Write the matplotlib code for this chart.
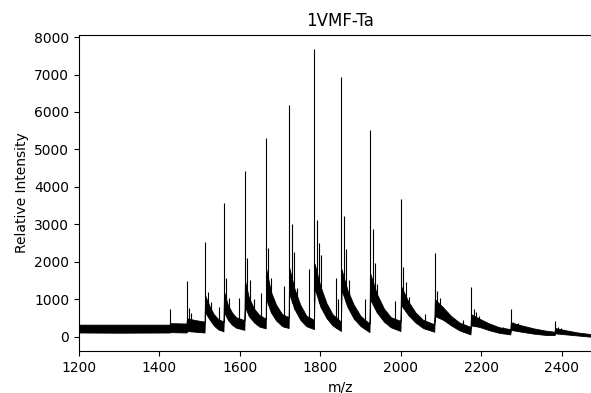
import numpy as np
import matplotlib
matplotlib.use("Agg")
import matplotlib.pyplot as plt

# noisy baseline band of the spectrum: m/z, lower edge, upper edge
env_mz = [1200, 1300, 1425, 1427, 1467,
          1468.5, 1490, 1512,
          1513.5, 1525, 1535, 1545, 1559,
          1560.5, 1570, 1580, 1590, 1611,
          1612.5, 1622, 1635, 1648, 1664,
          1665.5, 1677, 1690, 1705, 1721,
          1722.5, 1735, 1750, 1765, 1784,
          1785.5, 1800, 1815, 1830, 1851,
          1852.5, 1867, 1883, 1900, 1922,
          1923.5, 1940, 1958, 1975, 1999,
          2000.5, 2018, 2036, 2055, 2083,
          2084.5, 2105, 2125, 2145, 2173,
          2174.5, 2195, 2220, 2245, 2272,
          2273.5, 2300, 2330, 2360, 2382,
          2383.5, 2410, 2440, 2470, 2500]
env_lo = [110, 105, 110, 120, 110,
          150, 130, 110,
          650, 450, 300, 200, 140,
          660, 450, 320, 240, 180,
          800, 550, 380, 270, 220,
          1000, 650, 430, 280, 230,
          1150, 750, 450, 280, 200,
          1300, 800, 500, 300, 150,
          1250, 800, 480, 280, 120,
          1000, 650, 400, 250, 150,
          850, 580, 380, 230, 130,
          550, 450, 300, 170, 60,
          300, 260, 170, 100, 60,
          180, 130, 80, 45, 40,
          90, 60, 30, 0, 0]
env_hi = [320, 320, 320, 360, 350,
          490, 440, 400,
          1100, 800, 600, 480, 400,
          1200, 850, 650, 520, 440,
          1500, 1050, 750, 580, 480,
          1800, 1200, 850, 600, 520,
          1850, 1300, 850, 560, 450,
          1950, 1350, 900, 600, 400,
          1800, 1250, 850, 550, 350,
          1700, 1150, 750, 520, 420,
          1350, 950, 650, 450, 330,
          1000, 780, 550, 380, 260,
          600, 480, 350, 250, 200,
          380, 300, 220, 160, 130,
          230, 170, 110, 70, 60]

# isolated peaks: m/z and intensity
peak_mz = [1426, 1468, 1474, 1479,
           1513, 1520, 1527, 1548,
           1560, 1566, 1572, 1597,
           1612, 1617, 1625, 1635,
           1653, 1665, 1671, 1677,
           1710, 1722, 1730, 1735, 1741,
           1771, 1785, 1791, 1797, 1801,
           1838, 1845, 1852, 1858, 1864, 1870,
           1910, 1923, 1930, 1935, 1940,
           1985, 2000, 2006, 2012, 2020,
           2060, 2084, 2091, 2097, 2105,
           2155, 2174, 2181, 2188, 2195,
           2255, 2273, 2280, 2290,
           2383, 2390, 2398]
peak_int = [731, 1487, 758, 633,
            2528, 1203, 936, 802,
            3578, 1560, 1026, 1043,
            4416, 2096, 1516, 1000,
            1159, 5297, 2360, 1560,
            1354, 6178, 3009, 2250, 1300,
            1810, 7680, 3116, 2494, 2180,
            1560, 1000, 6942, 3223, 2330, 1500,
            1000, 5518, 2875, 1960, 1400,
            953, 3668, 1870, 1470, 1070,
            600, 2227, 1230, 1030, 800,
            450, 1319, 731, 670, 550,
            250, 748, 400, 370,
            411, 250, 220]

fig = plt.figure(figsize=(5.91, 3.93), dpi=100)
ax = fig.add_axes([79 / 591, 42 / 393, 523 / 591, 316.3 / 393])

ax.fill_between(env_mz, env_lo, env_hi, color="black", lw=0.6)
base = np.interp(peak_mz, env_mz, env_lo)
ax.vlines(peak_mz, base, peak_int, color="black", lw=0.8)

ax.set_xlim(1200, 2500)
ax.set_ylim(-384, 8064)
ax.set_title("1VMF-Ta")
ax.set_xlabel("m/z")
ax.set_ylabel("Relative Intensity")

fig.savefig("out.png", dpi=100)
